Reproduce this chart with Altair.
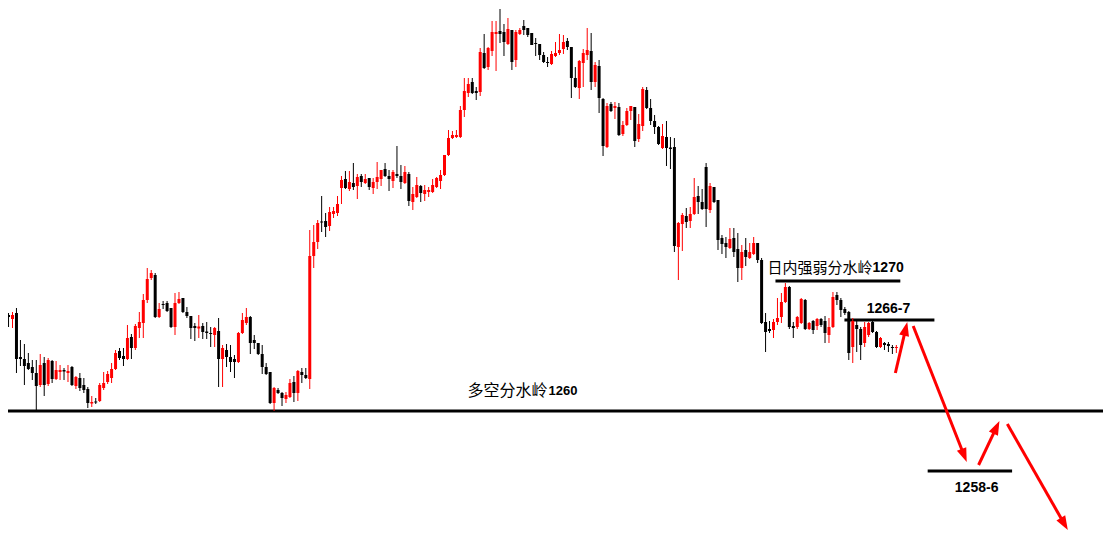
import math
import altair as alt
import pandas as pd

# ---------------- candle data (price) ----------------
opens = [
    1267.68, 1267.36, 1267.84, 1264.32, 1264.16, 1263.84, 1263.52, 1263.04, 1262.08, 1263.84,
    1262.16, 1264.00, 1262.56, 1263.12, 1263.28, 1263.04, 1263.52, 1262.00, 1262.64, 1262.08,
    1261.76, 1260.60, 1260.76, 1260.80, 1261.84, 1262.32, 1262.64, 1263.36, 1264.80, 1264.40,
    1264.16, 1265.92, 1265.04, 1266.64, 1267.04, 1268.88, 1270.64, 1270.88, 1267.52, 1268.56,
    1268.64, 1268.24, 1266.72, 1268.64, 1269.04, 1267.92, 1267.60, 1266.80, 1266.60, 1266.80,
    1266.36, 1266.24, 1266.08, 1266.40, 1264.16, 1264.88, 1264.32, 1264.16, 1263.92, 1266.24,
    1267.04, 1267.52, 1265.68, 1265.44, 1264.56, 1263.52, 1263.12, 1260.64, 1261.68, 1261.44,
    1260.96, 1261.12, 1262.32, 1261.44, 1263.12, 1262.88, 1262.56, 1272.40, 1273.52, 1275.16,
    1275.20, 1274.80, 1275.76, 1275.84, 1277.84, 1278.56, 1277.76, 1278.24, 1278.00, 1278.80,
    1278.24, 1278.64, 1277.84, 1278.32, 1278.56, 1279.36, 1278.80, 1278.40, 1278.96, 1278.80,
    1278.24, 1278.96, 1276.72, 1277.12, 1278.00, 1277.36, 1277.52, 1277.52, 1277.92, 1278.40,
    1278.88, 1280.48, 1281.84, 1281.92, 1281.92, 1284.08, 1285.44, 1286.32, 1285.60, 1285.52,
    1288.64, 1287.52, 1288.80, 1290.16, 1290.40, 1290.32, 1289.36, 1290.48, 1288.08, 1290.16,
    1290.80, 1290.64, 1290.24, 1289.44, 1289.36, 1288.48, 1287.92, 1287.76, 1288.40, 1288.64,
    1288.96, 1289.60, 1289.12, 1286.64, 1285.84, 1287.84, 1288.48, 1288.80, 1286.32, 1287.60,
    1284.96, 1281.12, 1284.56, 1284.24, 1284.32, 1282.16, 1282.88, 1284.00, 1284.32, 1281.76,
    1282.80, 1285.68, 1284.24, 1283.20, 1282.72, 1281.04, 1281.92, 1281.08, 1281.12, 1273.12,
    1274.96, 1275.60, 1275.20, 1275.76, 1277.20, 1276.72, 1279.52, 1276.08, 1277.92, 1276.88,
    1273.84, 1273.44, 1273.04, 1273.84, 1272.96, 1271.44, 1272.88, 1272.24, 1272.56, 1273.44,
    1272.08, 1267.12, 1266.56, 1266.48, 1267.12, 1267.52, 1268.72, 1269.92, 1266.80, 1266.72,
    1267.04, 1268.88, 1266.56, 1267.20, 1266.80, 1267.36, 1267.20, 1266.08, 1266.72, 1269.28,
    1268.88, 1268.16, 1267.92, 1265.12, 1266.88, 1266.56, 1265.44, 1266.08, 1267.12, 1266.32,
    1265.12, 1265.44, 1265.36, 1265.12, 1265.04,
]
highs = [
    1267.84, 1267.92, 1268.24, 1265.68, 1265.36, 1264.64, 1264.08, 1264.08, 1264.56, 1264.32,
    1264.24, 1264.08, 1264.00, 1263.68, 1263.44, 1263.68, 1263.60, 1262.80, 1263.04, 1262.64,
    1261.92, 1261.20, 1261.04, 1262.24, 1263.12, 1263.20, 1263.84, 1264.88, 1265.04, 1265.04,
    1266.88, 1266.16, 1266.96, 1267.92, 1269.36, 1271.44, 1271.28, 1271.04, 1268.64, 1268.80,
    1268.80, 1268.24, 1269.44, 1269.52, 1269.04, 1268.32, 1267.60, 1267.04, 1267.68, 1267.04,
    1267.12, 1266.72, 1266.72, 1267.44, 1265.28, 1265.36, 1265.28, 1264.48, 1266.32, 1267.84,
    1268.24, 1267.60, 1266.08, 1265.44, 1265.28, 1263.84, 1263.12, 1261.92, 1261.84, 1261.52,
    1261.52, 1262.56, 1262.80, 1263.28, 1263.44, 1263.44, 1274.48, 1274.88, 1275.28, 1277.20,
    1275.84, 1276.32, 1276.32, 1277.20, 1278.80, 1279.20, 1279.20, 1279.84, 1278.96, 1278.96,
    1278.96, 1278.64, 1278.64, 1279.92, 1279.28, 1279.84, 1279.28, 1279.28, 1281.20, 1279.68,
    1279.60, 1279.12, 1277.92, 1278.72, 1278.08, 1278.08, 1277.92, 1278.56, 1278.72, 1279.28,
    1280.48, 1282.48, 1282.40, 1282.48, 1284.40, 1286.64, 1286.64, 1286.64, 1285.92, 1289.04,
    1290.16, 1289.12, 1291.20, 1291.20, 1292.16, 1290.96, 1291.44, 1290.48, 1290.48, 1290.64,
    1291.28, 1290.64, 1290.24, 1289.84, 1289.36, 1288.72, 1288.32, 1288.80, 1289.52, 1290.16,
    1290.08, 1289.84, 1289.12, 1287.52, 1288.08, 1288.96, 1290.64, 1290.24, 1287.92, 1288.08,
    1285.04, 1284.64, 1284.72, 1284.72, 1284.64, 1283.20, 1284.24, 1284.40, 1284.32, 1283.76,
    1285.92, 1285.92, 1284.96, 1283.68, 1282.80, 1282.96, 1283.20, 1281.92, 1281.84, 1275.12,
    1275.84, 1276.24, 1276.32, 1278.64, 1278.00, 1277.76, 1279.84, 1278.24, 1277.92, 1276.88,
    1274.08, 1273.92, 1274.64, 1274.64, 1274.24, 1273.28, 1273.84, 1273.44, 1273.92, 1273.44,
    1272.24, 1267.84, 1267.20, 1267.36, 1269.04, 1269.44, 1270.24, 1270.00, 1267.12, 1267.60,
    1269.04, 1268.96, 1267.12, 1267.28, 1267.44, 1267.44, 1267.60, 1267.44, 1269.52, 1269.52,
    1269.04, 1268.32, 1268.00, 1267.44, 1267.28, 1266.72, 1267.12, 1267.12, 1267.28, 1266.40,
    1265.92, 1265.52, 1265.52, 1265.28, 1265.28,
]
lows = [
    1266.72, 1266.64, 1263.04, 1263.60, 1262.08, 1263.28, 1262.48, 1260.00, 1261.92, 1261.20,
    1262.00, 1262.24, 1262.48, 1262.48, 1262.48, 1262.32, 1262.00, 1261.76, 1261.60, 1261.44,
    1260.24, 1260.32, 1260.56, 1260.72, 1261.68, 1262.16, 1262.24, 1263.28, 1264.08, 1263.60,
    1264.08, 1264.16, 1264.88, 1265.84, 1265.84, 1268.64, 1270.48, 1267.44, 1267.44, 1268.16,
    1267.92, 1266.64, 1266.08, 1268.56, 1267.84, 1267.44, 1265.76, 1265.60, 1265.84, 1265.76,
    1265.76, 1265.12, 1265.12, 1261.92, 1261.92, 1263.52, 1263.12, 1262.64, 1263.84, 1266.16,
    1266.88, 1264.56, 1264.96, 1264.48, 1262.96, 1262.88, 1260.56, 1260.00, 1261.36, 1260.40,
    1260.64, 1261.04, 1260.72, 1260.80, 1262.24, 1262.56, 1261.76, 1271.44, 1272.96, 1274.32,
    1273.92, 1274.40, 1275.44, 1275.60, 1276.56, 1277.76, 1277.60, 1277.68, 1276.96, 1277.92,
    1278.16, 1277.68, 1277.36, 1277.76, 1278.00, 1278.72, 1277.60, 1277.84, 1278.64, 1277.76,
    1278.16, 1276.40, 1276.08, 1277.04, 1276.72, 1276.80, 1277.12, 1277.44, 1277.84, 1277.76,
    1278.80, 1280.40, 1281.76, 1281.84, 1281.84, 1283.52, 1285.12, 1285.36, 1284.88, 1285.20,
    1287.36, 1287.28, 1288.40, 1287.20, 1289.44, 1288.40, 1289.28, 1287.28, 1287.52, 1290.08,
    1290.08, 1289.92, 1289.28, 1288.40, 1288.08, 1287.84, 1287.52, 1287.68, 1288.32, 1288.48,
    1288.56, 1288.88, 1285.04, 1285.84, 1284.96, 1285.92, 1288.08, 1285.68, 1285.92, 1283.84,
    1280.40, 1281.04, 1283.92, 1283.36, 1282.00, 1282.00, 1282.80, 1283.28, 1281.12, 1281.52,
    1282.40, 1284.16, 1282.88, 1282.16, 1281.28, 1280.96, 1279.60, 1279.36, 1272.72, 1270.48,
    1272.80, 1274.64, 1274.64, 1275.68, 1275.76, 1276.08, 1274.72, 1275.84, 1276.64, 1272.88,
    1272.56, 1272.24, 1272.96, 1272.32, 1270.32, 1270.48, 1271.60, 1272.16, 1272.48, 1271.84,
    1266.96, 1264.72, 1266.24, 1265.84, 1266.88, 1267.04, 1268.64, 1266.56, 1265.84, 1266.56,
    1266.96, 1266.48, 1266.48, 1266.16, 1266.48, 1266.72, 1265.44, 1265.44, 1266.64, 1268.48,
    1267.52, 1267.68, 1264.08, 1263.84, 1264.72, 1264.08, 1265.12, 1265.92, 1266.24, 1265.04,
    1265.04, 1264.88, 1264.72, 1264.56, 1264.64,
]
closes = [
    1267.52, 1267.68, 1264.16, 1264.16, 1263.60, 1263.36, 1263.04, 1262.00, 1263.68, 1262.08,
    1264.08, 1262.56, 1263.28, 1263.28, 1263.16, 1263.20, 1262.08, 1262.72, 1261.84, 1261.68,
    1260.64, 1260.72, 1260.68, 1262.08, 1262.24, 1262.96, 1263.36, 1264.64, 1264.24, 1264.16,
    1265.84, 1265.04, 1266.80, 1267.12, 1268.88, 1270.56, 1271.04, 1267.52, 1268.16, 1268.48,
    1268.00, 1266.72, 1268.64, 1268.96, 1267.92, 1267.60, 1266.64, 1266.64, 1266.76, 1266.32,
    1266.24, 1266.16, 1266.64, 1264.16, 1265.04, 1264.32, 1263.92, 1263.92, 1266.24, 1267.28,
    1267.52, 1265.44, 1265.44, 1264.56, 1263.52, 1262.96, 1260.64, 1261.84, 1261.44, 1261.04,
    1261.28, 1262.24, 1261.44, 1263.20, 1262.88, 1262.64, 1272.40, 1273.52, 1275.04, 1275.08,
    1274.72, 1275.92, 1276.00, 1276.56, 1278.48, 1277.84, 1278.32, 1277.92, 1278.72, 1278.32,
    1278.56, 1277.92, 1278.32, 1278.72, 1279.28, 1278.80, 1278.56, 1279.12, 1278.80, 1278.32,
    1279.12, 1276.80, 1277.36, 1278.08, 1277.44, 1277.68, 1277.68, 1278.08, 1278.64, 1278.88,
    1280.48, 1281.84, 1282.08, 1282.08, 1284.08, 1285.60, 1286.16, 1285.44, 1285.44, 1288.72,
    1287.44, 1289.04, 1290.32, 1290.32, 1290.16, 1289.52, 1290.56, 1287.92, 1290.32, 1290.48,
    1290.48, 1290.08, 1289.28, 1289.36, 1288.48, 1287.92, 1287.84, 1288.56, 1288.64, 1288.88,
    1289.52, 1289.12, 1286.64, 1285.92, 1288.00, 1288.64, 1288.88, 1286.32, 1287.68, 1285.04,
    1281.20, 1284.40, 1284.00, 1284.40, 1282.08, 1282.88, 1284.00, 1284.40, 1281.60, 1282.96,
    1285.76, 1284.24, 1283.20, 1282.72, 1281.36, 1282.00, 1281.04, 1280.96, 1273.20, 1275.04,
    1275.68, 1275.12, 1275.76, 1277.12, 1276.72, 1276.16, 1276.16, 1278.00, 1276.72, 1273.68,
    1273.36, 1273.12, 1273.76, 1272.72, 1271.44, 1272.72, 1272.32, 1272.72, 1273.44, 1272.08,
    1267.04, 1266.32, 1266.40, 1267.12, 1267.44, 1268.72, 1269.92, 1266.72, 1266.64, 1267.52,
    1268.96, 1266.56, 1267.04, 1266.48, 1267.36, 1266.88, 1266.24, 1266.72, 1269.12, 1268.88,
    1268.08, 1267.84, 1264.64, 1267.20, 1266.56, 1265.28, 1266.72, 1267.04, 1266.32, 1265.12,
    1265.84, 1265.28, 1265.20, 1265.04, 1265.12,
]

# ---------------- annotation data ----------------
main_level = 1260.0
level_x1 = [193.5, 210.9, 231.9]
level_x2 = [225.0, 233.6, 253.2]
level_y = [1270.40, 1267.28, 1255.20]

arrow_x1 = [223.75, 228.25, 244.75, 252.0]
arrow_y1 = [1263.04, 1266.80, 1255.68, 1258.96]
arrow_x2 = [226.75, 241.75, 250.0, 267.25]
arrow_y2 = [1267.12, 1255.92, 1259.20, 1250.48]

# ---------------- layout ----------------
W, H = 1095, 539
X_DOM = [1.125, 274.875]
Y_DOM = [1249.12, 1292.24]
xs = alt.Scale(domain=X_DOM, nice=False, zero=False)
ys = alt.Scale(domain=Y_DOM, nice=False, zero=False)
RED = "#ff0000"

n = len(opens)
df = pd.DataFrame({"i": list(range(n)), "open": opens, "high": highs,
                   "low": lows, "close": closes})
df["dir"] = ["up" if c >= o else "down" for o, c in zip(opens, closes)]
col = alt.Color("dir:N", scale=alt.Scale(domain=["up", "down"], range=[RED, "#000000"]),
                legend=None)

base = alt.Chart(df)
wicks = base.mark_rule(strokeWidth=1, clip=True).encode(
    x=alt.X("i:Q", scale=xs, axis=None),
    y=alt.Y("low:Q", scale=ys, axis=None), y2="high:Q", color=col)
bodies = base.mark_bar(size=3, clip=True).encode(
    x=alt.X("i:Q", scale=xs, axis=None),
    y=alt.Y("open:Q", scale=ys, axis=None), y2="close:Q", color=col)

main_line = alt.Chart(pd.DataFrame({"y": [main_level]})).mark_rule(
    strokeWidth=3, color="black", strokeCap="butt").encode(
    x=alt.value(0), x2=alt.value(W), y=alt.Y("y:Q", scale=ys, axis=None))

lv = pd.DataFrame({"x1": level_x1, "x2": level_x2, "y": level_y})
levels = alt.Chart(lv).mark_rule(strokeWidth=3, color="black", strokeCap="butt").encode(
    x=alt.X("x1:Q", scale=xs, axis=None), x2="x2:Q",
    y=alt.Y("y:Q", scale=ys, axis=None))

# arrows: shaft + triangular head
px_x = W / (X_DOM[1] - X_DOM[0])
px_y = H / (Y_DOM[1] - Y_DOM[0])
HEAD = 7.0
rows = []
for x1, y1, x2, y2 in zip(arrow_x1, arrow_y1, arrow_x2, arrow_y2):
    sx = (x2 - x1) * px_x
    sy = -(y2 - y1) * px_y
    L = math.hypot(sx, sy)
    ux, uy = sx / L, sy / L
    ang = math.degrees(math.atan2(ux, -uy)) % 360
    hx = x2 - HEAD * ux / px_x
    hy = y2 + HEAD * uy / px_y
    rows.append({"x1": x1, "y1": y1, "hx": hx, "hy": hy, "ang": ang})
adf = pd.DataFrame(rows)
shafts = alt.Chart(adf).mark_rule(strokeWidth=3, color=RED, strokeCap="butt").encode(
    x=alt.X("x1:Q", scale=xs, axis=None), x2="hx:Q",
    y=alt.Y("y1:Q", scale=ys, axis=None), y2="hy:Q")
heads = alt.Chart(adf).mark_point(
    shape="M0,-1L0.72,1L-0.72,1Z", filled=True, color=RED, opacity=1,
    size=(2 * HEAD) ** 2, strokeWidth=0).encode(
    x=alt.X("hx:Q", scale=xs, axis=None),
    y=alt.Y("hy:Q", scale=ys, axis=None),
    angle=alt.Angle("ang:Q", scale=None))


def label(text, x, y, size, align, bold, font):
    d = pd.DataFrame({"x": [x], "y": [y], "t": [text]})
    return alt.Chart(d).mark_text(
        font=font, fontSize=size, align=align, baseline="middle",
        fontWeight="bold" if bold else "normal", color="#000000").encode(
        x=alt.X("x:Q", scale=xs, axis=None),
        y=alt.Y("y:Q", scale=ys, axis=None), text="t:N")


CJK = "Noto Sans CJK SC"
LAT = "Liberation Sans"
texts = [
    label("多空分水岭", 136.0, 1261.62, 16, "right", False, CJK),
    label("1260", 136.25, 1261.62, 13, "left", True, LAT),
    label("日内强弱分水岭", 218.0, 1271.48, 15, "right", False, CJK),
    label("1270", 218.0, 1271.48, 14, "left", True, LAT),
    label("1266-7", 222.0, 1268.16, 14, "center", True, LAT),
    label("1258-6", 244.25, 1253.84, 14, "center", True, LAT),
]

chart = alt.layer(main_line, levels, wicks, bodies, shafts, heads, *texts).properties(
    width=W, height=H, padding=0, background="white",
    autosize=alt.AutoSizeParams(type="none")
).configure_view(stroke=None)

chart.save("out.html", embed_options={"renderer": "svg", "actions": False})
